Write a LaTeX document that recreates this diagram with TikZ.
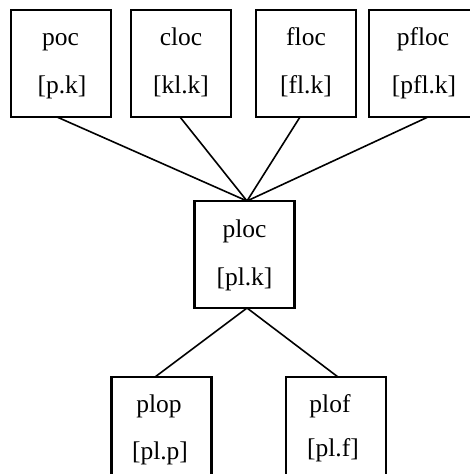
\documentclass[tikz,border=0pt]{standalone}
\usepackage{fontspec}
\setmainfont{Liberation Serif}
\begin{document}
\begin{tikzpicture}[x=1pt,y=1pt,
  unitBox/.style={draw=drawColor,line width=2.2pt,minimum width=100pt,minimum height=107pt,inner sep=0pt,outer sep=0pt},
  unitText/.style={text=drawColor,anchor=base,inner sep=0pt,outer sep=0pt,font=\fontsize{25.5}{30}\selectfont},
  linkLine/.style={draw=drawColor,line width=1.6pt,line join=round}]
\definecolor{drawColor}{RGB}{0,0,0}
\definecolor{fillColor}{RGB}{255,255,255}
\path[use as bounding box,fill=fillColor] (0,0) rectangle (469,474);

% top row
\node[unitBox] (poc) at ( 61.0,410.5) {};
\node[unitBox] (cloc) at (181.0,410.5) {};
\node[unitBox] (floc) at (306.0,410.5) {};
\node[unitBox,minimum width=110pt] (pfloc) at (424.0,410.5) {};

\node[unitText] (pocName) at ( 60.5,428.0) {poc};
\node[unitText] (pocKey) at ( 62.0,380.0) {[p.k]};
\node[unitText] (clocName) at (181.0,428.0) {cloc};
\node[unitText] (clocKey) at (181.0,380.0) {[kl.k]};
\node[unitText] (flocName) at (306.0,428.0) {floc};
\node[unitText] (flocKey) at (306.0,380.0) {[fl.k]};
\node[unitText] (pflocName) at (423.0,428.0) {pfloc};
\node[unitText] (pflocKey) at (424.0,380.0) {[pfl.k]};

% middle
\node[unitBox] (ploc) at (244.5,219.5) {};
\node[unitText] (plocName) at (244.5,236.0) {ploc};
\node[unitText] (plocKey) at (244.5,188.0) {[pl.k]};

% bottom row
\node[unitBox] (plop) at (161.5, 43.5) {};
\node[unitBox] (plof) at (336.0, 43.5) {};
\node[unitText] (plopName) at (159.0, 61.0) {plop};
\node[unitText] (plopKey) at (160.0, 14.0) {[pl.p]};
\node[unitText] (plofName) at (330.0, 61.0) {plof};
\node[unitText] (plofKey) at (333.0, 17.0) {[pl.f]};

% links
\path[linkLine] ([xshift=-4pt]poc.south) -- ([xshift=2.5pt]ploc.north);
\path[linkLine] ([xshift=-1pt]cloc.south) -- ([xshift=2.5pt]ploc.north);
\path[linkLine] ([xshift=-6pt]floc.south) -- ([xshift=2.5pt]ploc.north);
\path[linkLine] ([xshift=4pt]pfloc.south) -- ([xshift=2.5pt]ploc.north);

\path[linkLine] ([xshift=2.5pt]ploc.south) -- ([xshift=-6.5pt]plop.north);
\path[linkLine] ([xshift=2.5pt]ploc.south) -- ([xshift=2pt]plof.north);
\end{tikzpicture}
\end{document}
